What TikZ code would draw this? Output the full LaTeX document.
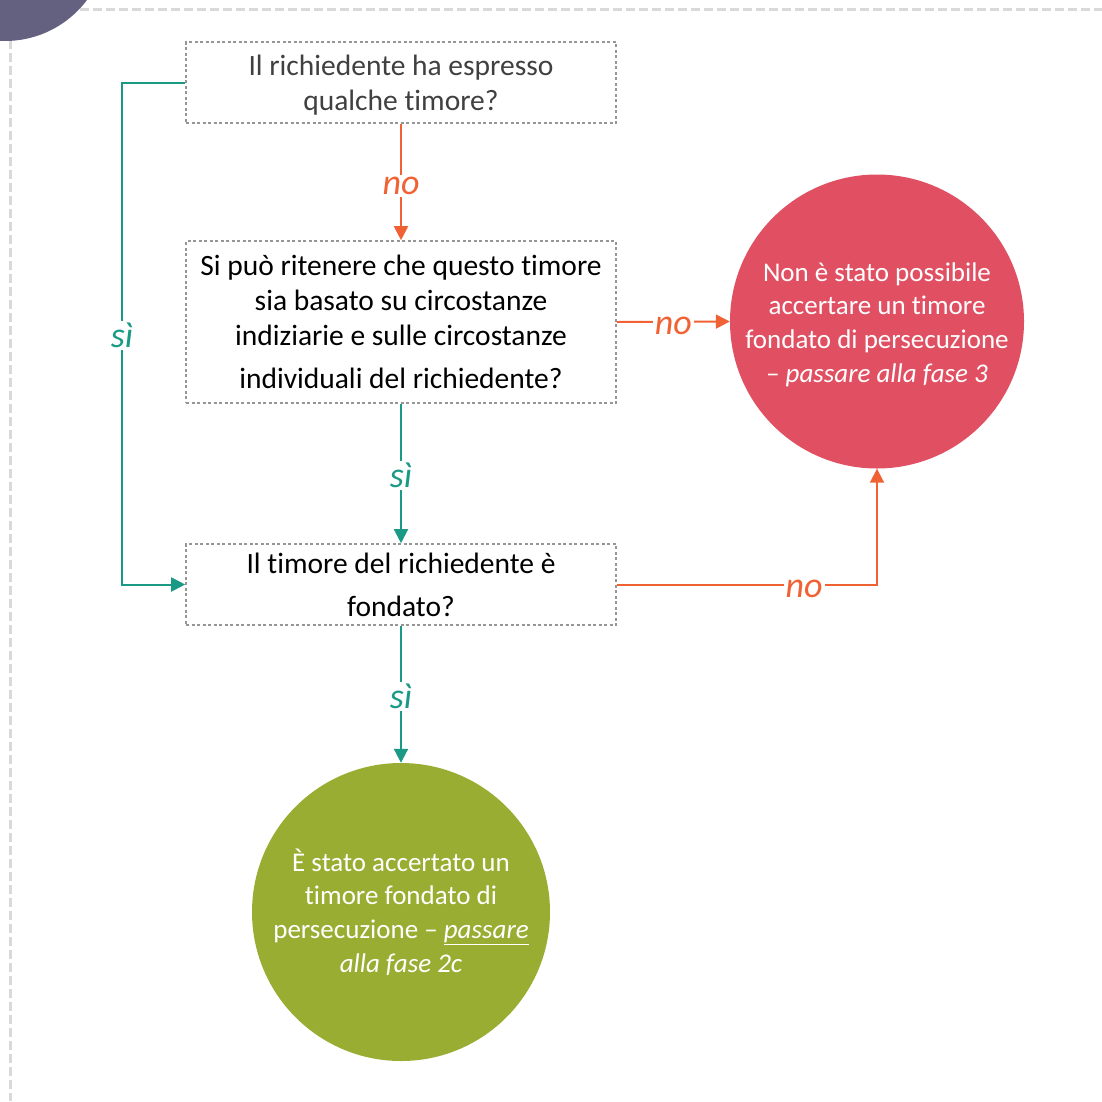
\documentclass[tikz,border=0pt]{standalone}
\usepackage{fontspec}
\setmainfont{Carlito}[Ligatures=NoCommon]
\usetikzlibrary{arrows.meta}

\definecolor{flowOrange}{RGB}{240,98,52}
\definecolor{flowTeal}{RGB}{26,154,133}
\definecolor{endRed}{RGB}{224,80,98}
\definecolor{endGreen}{RGB}{153,173,50}
\definecolor{cornerDisc}{RGB}{100,96,128}
\definecolor{pageLine}{RGB}{217,217,217}
\definecolor{boxLine}{RGB}{150,150,150}
\definecolor{boxText}{RGB}{64,64,64}

\tikzset{
  question/.style={draw=boxLine, line width=1.6pt, dash pattern=on 3pt off 2.5pt,
    minimum width=430pt, minimum height=81pt, align=center, inner sep=0pt,
    font=\fontsize{29.5}{35}\selectfont},
  boxtext/.style={align=center, inner sep=0pt, font=\fontsize{29.5}{35}\selectfont},
  outcome/.style={circle, minimum size=#1, text=white, align=center, inner sep=0pt,
    font=\fontsize{27}{33.6}\selectfont},
  outcometext/.style={text=white, align=center, inner sep=0pt,
    font=\fontsize{27}{33.6}\selectfont},
  noflow/.style={draw=flowOrange, line width=2pt, -{Triangle[length=14pt,width=14pt]}},
  yesflow/.style={draw=flowTeal, line width=2pt, -{Triangle[length=14pt,width=14pt]}},
  nolabel/.style={fill=white, text=flowOrange, inner sep=2pt, yshift=-4pt,
    font=\fontsize{36}{36}\selectfont\itshape},
  yeslabel/.style={fill=white, text=flowTeal, inner sep=2pt, yshift=-2pt,
    font=\fontsize{36}{36}\selectfont\itshape},
}

\begin{document}
\begin{tikzpicture}[x=1pt, y=-1pt]
  \useasboundingbox (0,0) rectangle (1102,1101);

  % page frame and corner disc
  \draw[pageLine, line width=3pt, dash pattern=on 9pt off 4pt] (80,9) -- (1102,9);
  \draw[pageLine, line width=3pt, dash pattern=on 9pt off 4pt] (10,40) -- (10,1101);
  \fill[cornerDisc] (5,-61.5) circle (102.5);

  % questions
  \node[question] (q1) at (401,82.5) {};
  \node[boxtext, text=boxText] (q1Text) at (401,85)
    {Il richiedente ha espresso\\qualche timore?};
  \node[question, minimum height=162pt] (q2) at (401,322)
    {Si può ritenere che questo timore\\sia basato su circostanze\\indiziarie e sulle circostanze\\[8pt]individuali del richiedente?};
  \node[question] (q3) at (401,584.5)
    {Il timore del richiedente è\\[8pt]fondato?};

  % outcomes
  \node[outcome=294pt, fill=endRed] (fail) at (877,321.5) {};
  \node[outcometext] (failText) at (877,324.5)
    {Non è stato possibile\\accertare un timore\\fondato di persecuzione\\\textit{– passare alla fase 3}};
  \node[outcome=298pt, fill=endGreen] (pass) at (401,912)
    {È stato accertato un\\timore fondato di\\persecuzione – \underline{\textit{passare}}\\\textit{alla fase 2c}};

  % bend points
  \coordinate (yesTop) at (122,82.5);
  \coordinate (yesBot) at (122,584.5);
  \coordinate (noCorner) at (877,584.5);

  % "no" branches
  \draw[noflow] (q1.south) -- node[nolabel]{no} (q2.north);
  \draw[noflow] (q2.east) -- node[nolabel]{no} (fail.west);
  \draw[noflow] (q3.east) -- node[nolabel, pos=0.72]{no} (noCorner) -- (fail.south);

  % "sì" branches
  \draw[yesflow] (q1.west) -- (yesTop) -- node[yeslabel]{sì} (yesBot) -- (q3.west);
  \draw[yesflow] (q2.south) -- node[yeslabel]{sì} (q3.north);
  \draw[yesflow] (q3.south) -- node[yeslabel]{sì} (pass.north);
\end{tikzpicture}
\end{document}
